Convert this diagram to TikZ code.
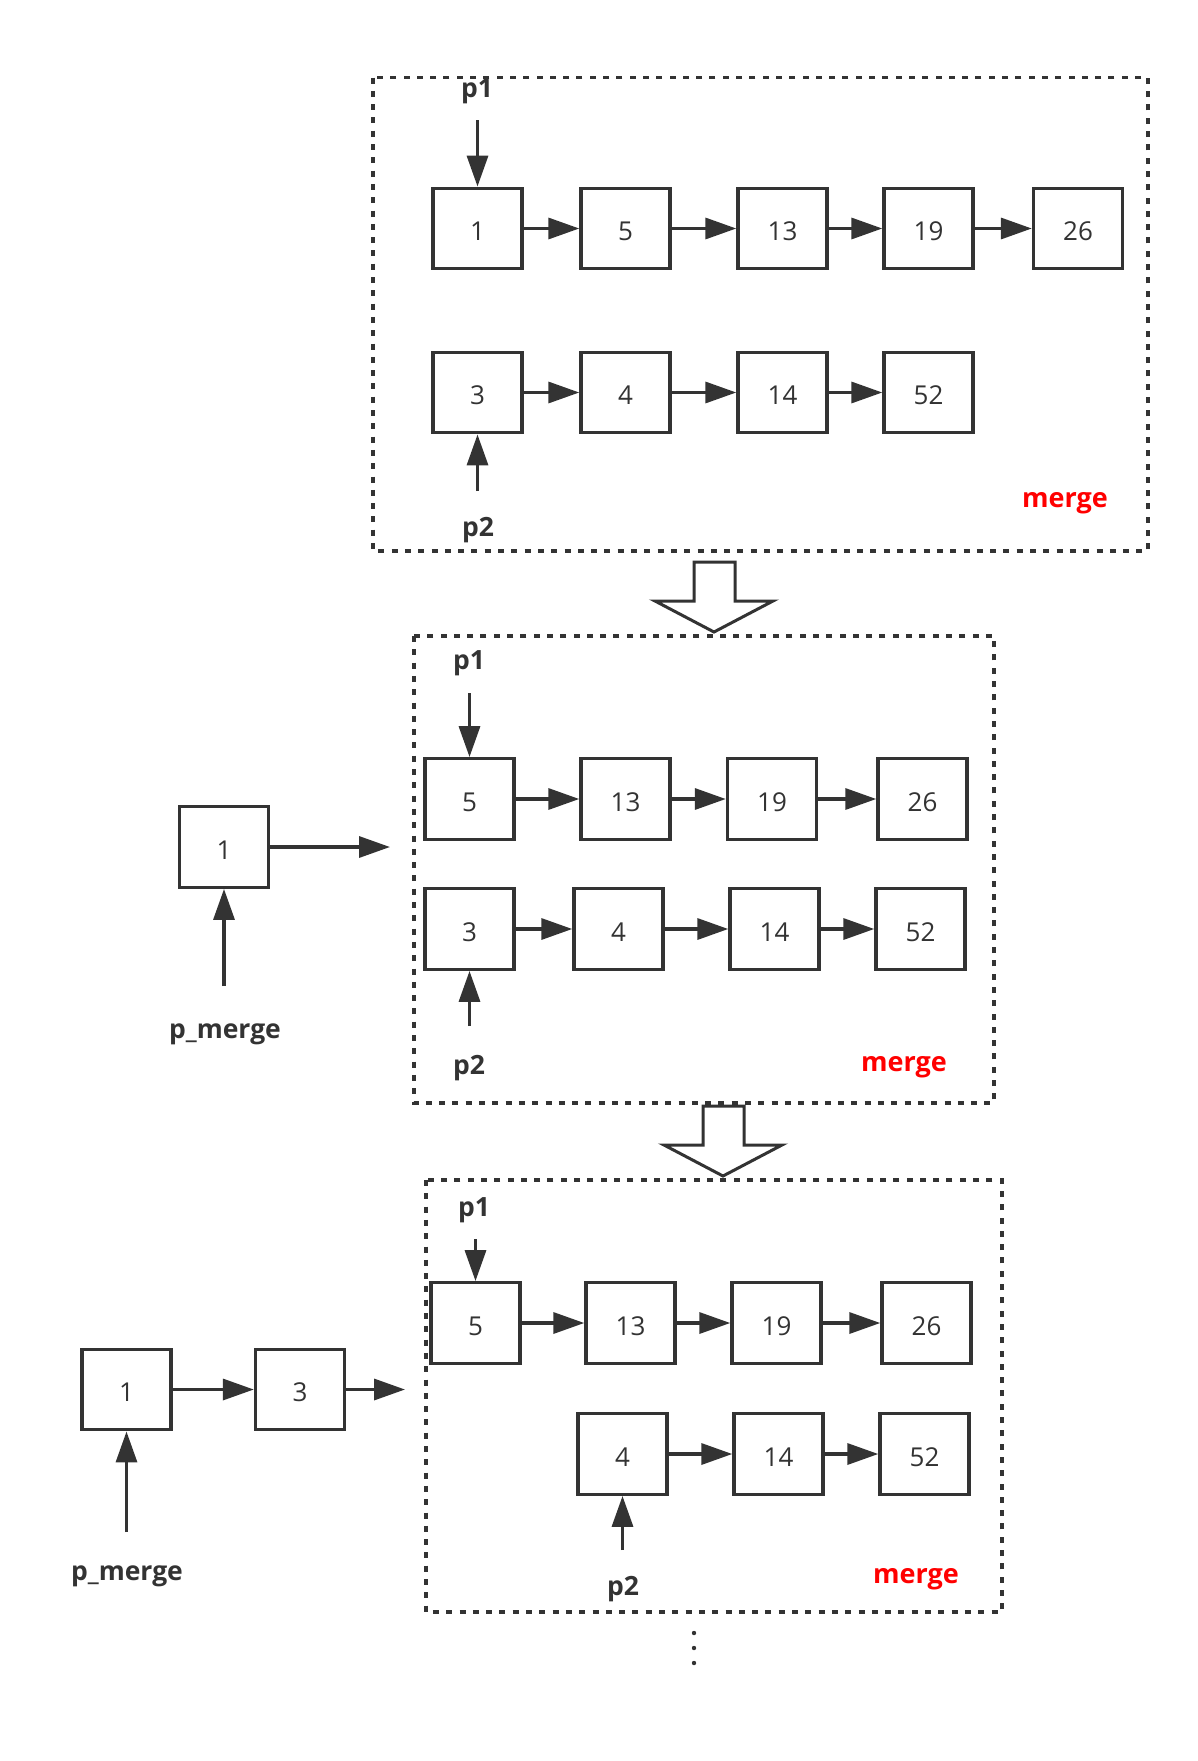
\documentclass[tikz,border=0pt]{standalone}
\usepackage{fontspec}
\setmainfont{Open Sans}
\usetikzlibrary{arrows.meta}
\definecolor{ink}{HTML}{333333}
\definecolor{redtxt}{HTML}{FF0000}
\tikzset{
  lbox/.style={draw=ink, line width=3.4pt, minimum width=89pt, minimum height=80.5pt, inner sep=0pt, text=ink, font=\fontsize{26}{30}\selectfont, text height=24pt, text depth=0pt},
  link/.style={draw=ink, line width=3.4pt, -{Triangle[length=31pt,width=21pt]}},
  ptr/.style={text=ink, font=\bfseries\fontsize{26.5}{30}\selectfont, inner sep=0pt},
  mlabel/.style={text=redtxt, font=\bfseries\fontsize{27}{30}\selectfont, inner sep=0pt},
  frame/.style={draw=ink, line width=3.2pt, dash pattern=on 6pt off 7.3pt},
  bigarrow/.style={draw=ink, line width=3pt, fill=white, line join=miter}
}
\begin{document}
\begin{tikzpicture}[x=1pt,y=-1pt]
\useasboundingbox (0,0) rectangle (1197,1761);
\fill[white] (0,0) rectangle (1197,1761);

% ---------- block 1 ----------
\draw[frame] (373,77.5) rectangle (1148,551);
\node[lbox] (a1) at (477.5,228.5) {1};
\node[lbox] (a5) at (625.5,228.5) {5};
\node[lbox] (a13) at (782.5,228.5) {13};
\node[lbox] (a19) at (928.5,228.5) {19};
\node[lbox] (a26) at (1078,228.5) {26};
\node[lbox] (b3) at (477.5,392.5) {3};
\node[lbox] (b4) at (625.5,392.5) {4};
\node[lbox] (b14) at (782.5,392.5) {14};
\node[lbox] (b52) at (928.5,392.5) {52};
\draw[link] (a1) -- (a5);
\draw[link] (a5) -- (a13);
\draw[link] (a13) -- (a19);
\draw[link] (a19) -- (a26);
\draw[link] (b3) -- (b4);
\draw[link] (b4) -- (b14);
\draw[link] (b14) -- (b52);
\node[ptr] (ap1) at (477,91) {p1};
\coordinate (ap1s) at (477.5,120);
\draw[link] (ap1s) -- (a1.north);
\node[ptr] (ap2) at (478,530) {p2};
\coordinate (ap2s) at (477.5,491);
\draw[link] (ap2s) -- (b3.south);
\node[mlabel] (am) at (1065,503) {merge};

% big arrow 1
\draw[bigarrow] (694,562) -- (735,562) -- (735,601) -- (773,601) -- (714,632) -- (655,601) -- (694,601) -- cycle;

% ---------- block 2 ----------
\draw[frame] (414,636) rectangle (994,1103);
\node[lbox] (c5) at (469.5,799) {5};
\node[lbox] (c13) at (625.5,799) {13};
\node[lbox] (c19) at (772,799) {19};
\node[lbox] (c26) at (922.5,799) {26};
\node[lbox] (d3) at (469.5,929) {3};
\node[lbox] (d4) at (618.5,929) {4};
\node[lbox] (d14) at (774.5,929) {14};
\node[lbox] (d52) at (920.5,929) {52};
\draw[link] (c5) -- (c13);
\draw[link] (c13) -- (c19);
\draw[link] (c19) -- (c26);
\draw[link] (d3) -- (d4);
\draw[link] (d4) -- (d14);
\draw[link] (d14) -- (d52);
\node[ptr] (cp1) at (469,663) {p1};
\coordinate (cp1s) at (469.5,693);
\draw[link] (cp1s) -- (c5.north);
\node[ptr] (cp2) at (469,1068) {p2};
\coordinate (cp2s) at (469.5,1026);
\draw[link] (cp2s) -- (d3.south);
\node[mlabel] (cm) at (904,1067) {merge};
% left part
\node[lbox] (e1) at (224,847) {1};
\coordinate (e1t) at (390,847);
\draw[link] (e1) -- (e1t);
\coordinate (epm) at (224,986);
\draw[link] (epm) -- (e1.south);
\node[ptr] (epml) at (225,1034) {p\_merge};

% big arrow 2
\draw[bigarrow] (703,1106) -- (744,1106) -- (744,1145) -- (782,1145) -- (723,1176) -- (664,1145) -- (703,1145) -- cycle;

% ---------- block 3 ----------
\draw[frame] (426,1180) rectangle (1002,1612);
\node[lbox] (f5) at (475.5,1323) {5};
\node[lbox] (f13) at (630.5,1323) {13};
\node[lbox] (f19) at (776.5,1323) {19};
\node[lbox] (f26) at (926.5,1323) {26};
\node[lbox] (g4) at (622.5,1454) {4};
\node[lbox] (g14) at (778.5,1454) {14};
\node[lbox] (g52) at (924.5,1454) {52};
\draw[link] (f5) -- (f13);
\draw[link] (f13) -- (f19);
\draw[link] (f19) -- (f26);
\draw[link] (g4) -- (g14);
\draw[link] (g14) -- (g52);
\node[ptr] (fp1) at (474,1210) {p1};
\coordinate (fp1s) at (475.5,1239);
\draw[link] (fp1s) -- (f5.north);
\node[ptr] (gp2) at (623,1589) {p2};
\coordinate (gp2s) at (622.5,1550);
\draw[link] (gp2s) -- (g4.south);
\node[mlabel] (fm) at (916,1579) {merge};
% left part
\node[lbox] (h1) at (126.5,1389.5) {1};
\node[lbox] (h3) at (300,1389.5) {3};
\draw[link] (h1) -- (h3);
\coordinate (h3t) at (405,1389.5);
\draw[link] (h3) -- (h3t);
\coordinate (hpm) at (126.5,1532);
\draw[link] (hpm) -- (h1.south);
\node[ptr] (hpml) at (127,1576) {p\_merge};

% continuation dots
\fill[ink] (694,1633) circle (2.2pt);
\fill[ink] (694,1648) circle (2.2pt);
\fill[ink] (694,1663) circle (2.2pt);
\end{tikzpicture}
\end{document}
